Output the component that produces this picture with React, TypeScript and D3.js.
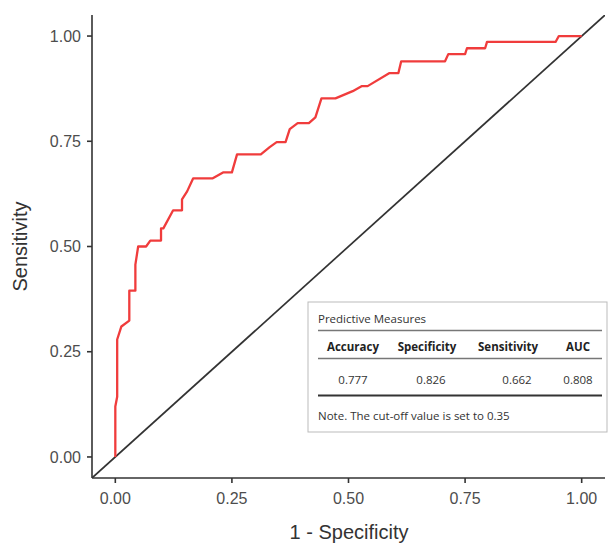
import React from 'react';
import { scaleLinear, line, curveLinear } from 'd3';

// ROC curve: false positive rate / true positive rate
const fpr = [0, 0, 0.004, 0.004, 0.013, 0.03, 0.03, 0.043, 0.043, 0.049, 0.066, 0.075, 0.098, 0.098, 0.103, 0.124, 0.143, 0.143, 0.154, 0.167, 0.209, 0.231, 0.25, 0.261, 0.312, 0.331, 0.346, 0.365, 0.374, 0.391, 0.415, 0.429, 0.442, 0.472, 0.509, 0.528, 0.541, 0.588, 0.607, 0.613, 0.707, 0.714, 0.75, 0.754, 0.793, 0.797, 0.944, 0.951, 1.0];
const tpr = [0, 0.12, 0.143, 0.279, 0.31, 0.324, 0.395, 0.395, 0.457, 0.5, 0.5, 0.514, 0.514, 0.543, 0.543, 0.586, 0.586, 0.612, 0.631, 0.662, 0.662, 0.676, 0.676, 0.719, 0.719, 0.736, 0.748, 0.748, 0.779, 0.793, 0.793, 0.807, 0.852, 0.852, 0.869, 0.881, 0.881, 0.912, 0.912, 0.94, 0.94, 0.957, 0.957, 0.971, 0.971, 0.986, 0.986, 1.0, 1.0];

const ticks = [0, 0.25, 0.5, 0.75, 1];

const measureNames = ['Accuracy', 'Specificity', 'Sensitivity', 'AUC'];
const measureValues = ['0.777', '0.826', '0.662', '0.808'];

const W = 611;
const H = 543;
const left = 92;
const right = 605;
const top = 15;
const bottom = 478;

export default function App() {
  const x = scaleLinear().domain([-0.05, 1.05]).range([left, right]);
  const y = scaleLinear().domain([-0.05, 1.05]).range([bottom, top]);

  const pts = fpr.map((f, i) => [f, tpr[i]] as [number, number]);
  const roc = line<[number, number]>()
    .x(d => x(d[0]))
    .y(d => y(d[1]))
    .curve(curveLinear);

  const tickFont = '"Liberation Sans", Arial, sans-serif';
  const tableFont = '"Open Sans", "Noto Sans", sans-serif';

  // table column centres
  const colX = [353, 427, 508, 578];
  const valX = [353, 431, 517, 578];

  return (
    <svg width={W} height={H} style={{ position: 'absolute', left: 0, top: 0, background: '#fff' }}>
      <defs>
        <clipPath id="plot">
          <rect x={left} y={top} width={right - left} height={bottom - top} />
        </clipPath>
      </defs>

      {/* reference diagonal */}
      <g clipPath="url(#plot)">
        <line x1={x(-0.05)} y1={y(-0.05)} x2={x(1.05)} y2={y(1.05)} stroke="#333" strokeWidth={1.7} />
        <path d={roc(pts) || ''} fill="none" stroke="#f03c3c" strokeWidth={2.3} strokeLinejoin="round" />
      </g>

      {/* axes */}
      <line x1={left} y1={top} x2={left} y2={bottom} stroke="#333" strokeWidth={1.6} />
      <line x1={left} y1={bottom} x2={right} y2={bottom} stroke="#333" strokeWidth={1.6} />

      {ticks.map(t => (
        <g key={'y' + t}>
          <line x1={left - 5} x2={left} y1={y(t)} y2={y(t)} stroke="#333" strokeWidth={1.6} />
          <text x={left - 11} y={y(t)} dy="0.36em" textAnchor="end" fontFamily={tickFont} fontSize={16} fill="#4d4d4d">
            {t.toFixed(2)}
          </text>
        </g>
      ))}
      {ticks.map(t => (
        <g key={'x' + t}>
          <line x1={x(t)} x2={x(t)} y1={bottom} y2={bottom + 5} stroke="#333" strokeWidth={1.6} />
          <text x={x(t)} y={bottom + 26} textAnchor="middle" fontFamily={tickFont} fontSize={16} fill="#4d4d4d">
            {t.toFixed(2)}
          </text>
        </g>
      ))}

      <text x={349} y={539} textAnchor="middle" fontFamily={tickFont} fontSize={20} fill="#333">
        1 - Specificity
      </text>
      <text transform={`translate(27, ${y(0.5)}) rotate(-90)`} textAnchor="middle" fontFamily={tickFont} fontSize={20} fill="#333">
        Sensitivity
      </text>

      {/* predictive measures table */}
      <rect x={308} y={302} width={299} height={130} fill="#fff" stroke="#bbb" strokeWidth={1} />
      <text x={318} y={323} fontFamily={tableFont} fontSize={11.5} fill="#333">Predictive Measures</text>
      <line x1={318} x2={602} y1={330.5} y2={330.5} stroke="#777" strokeWidth={1.5} />
      {measureNames.map((m, i) => (
        <text key={m} x={colX[i]} y={351} textAnchor="middle" fontFamily={tableFont} fontSize={11.5} fontWeight="bold" fill="#222">
          {m}
        </text>
      ))}
      <line x1={318} x2={602} y1={358.5} y2={358.5} stroke="#777" strokeWidth={1.5} />
      {measureValues.map((v, i) => (
        <text key={i} x={valX[i]} y={384} textAnchor="middle" fontFamily={tableFont} fontSize={11.5} fill="#333">
          {v}
        </text>
      ))}
      <line x1={318} x2={602} y1={395.5} y2={395.5} stroke="#333" strokeWidth={2.2} />
      <text x={318} y={420} fontFamily={tableFont} fontSize={11.5} fill="#333">Note. The cut-off value is set to 0.35</text>
    </svg>
  );
}
